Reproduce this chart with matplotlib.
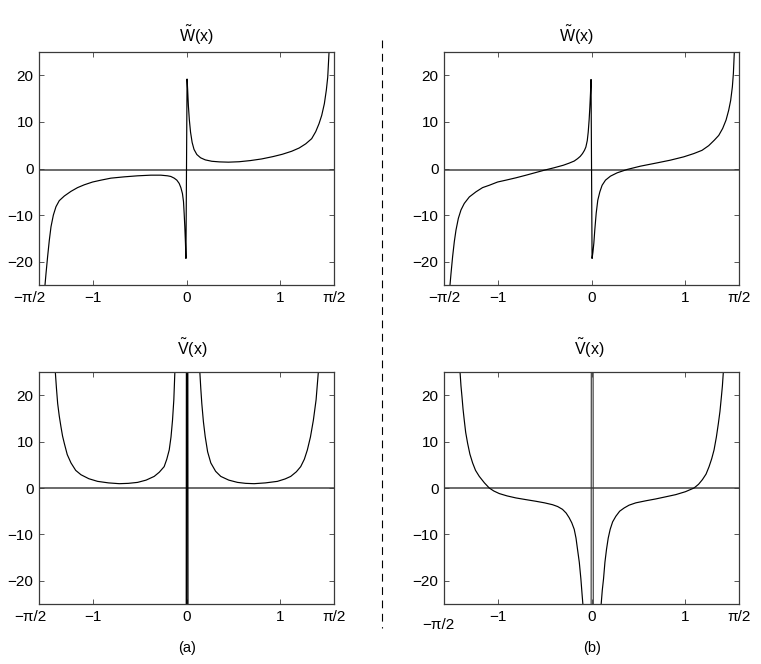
import numpy as np
import matplotlib
matplotlib.use("Agg")
import matplotlib.pyplot as plt
from matplotlib.lines import Line2D
from matplotlib.transforms import ScaledTranslation

plt.rcParams['font.family'] = ['Liberation Sans', 'DejaVu Sans']
plt.rcParams['mathtext.fontset'] = 'custom'
plt.rcParams['mathtext.rm'] = 'Liberation Sans'
plt.rcParams['mathtext.it'] = 'Liberation Sans:italic'

# ---------------- data ----------------
HALF_PI = np.pi / 2
x_ticks = [-HALF_PI, -1, 0, 1, HALF_PI]
x_tick_labels = ['\u2212\u03c0/2', '\u22121', '0', '1', '\u03c0/2']
y_ticks = [-20, -10, 0, 10, 20]
y_tick_labels = ['\u221220', '\u221210', '0', '10', '20']

# W~(x), panel (a)
wa_x = [-1.507, -1.496, -1.479, -1.461, -1.443, -1.418, -1.390, -1.355, -1.301, -1.230,
        -1.160, -1.089, -1.0, -0.911, -0.805, -0.663, -0.521, -0.379, -0.273, -0.202,
        -0.167, -0.131, -0.103, -0.078, -0.060, -0.043, -0.032, -0.025, -0.018, -0.011,
        -0.006, 0.006, 0.012, 0.02, 0.03, 0.043, 0.06, 0.08, 0.11, 0.15,
        0.2, 0.27, 0.35, 0.447, 0.56, 0.68, 0.8, 0.92, 1.02, 1.12,
        1.2, 1.27, 1.333, 1.376, 1.411, 1.44, 1.468, 1.489, 1.504, 1.518]
wa_y = [-25, -22.5, -18.9, -15.4, -12.5, -10.0, -8.2, -6.9, -5.9, -4.9,
        -4.1, -3.5, -2.9, -2.5, -2.07, -1.79, -1.57, -1.43, -1.43, -1.57,
        -1.71, -2.07, -2.5, -3.2, -4.1, -5.4, -7.1, -9.6, -12.5, -16.1,
        -19.3, 19.2, 17.0, 13.5, 10.5, 7.8, 5.6, 4.1, 3.0, 2.3,
        1.85, 1.55, 1.42, 1.36, 1.45, 1.7, 2.05, 2.55, 3.05, 3.7,
        4.4, 5.3, 6.4, 7.9, 9.6, 11.4, 13.9, 16.8, 19.6, 25]

# W~(x), panel (b)
wb_x = [-1.507, -1.496, -1.479, -1.461, -1.443, -1.418, -1.390, -1.355, -1.301, -1.230,
        -1.160, -1.089, -1.0, -0.911, -0.805, -0.7, -0.6, -0.5, -0.4, -0.3,
        -0.238, -0.184, -0.149, -0.12, -0.096, -0.075, -0.06, -0.045, -0.035, -0.025,
        -0.018, -0.011, -0.005, 0.006, 0.015, 0.025, 0.035, 0.05, 0.067, 0.089,
        0.113, 0.149, 0.202, 0.273, 0.379, 0.521, 0.699, 0.84, 0.982, 1.089,
        1.177, 1.248, 1.309, 1.355, 1.397, 1.433, 1.461, 1.482, 1.5, 1.511, 1.521]
wb_y = [-25, -22.5, -18.9, -15.7, -13.2, -10.7, -8.9, -7.5, -6.1, -5.0,
        -4.1, -3.6, -2.9, -2.5, -2.0, -1.45, -0.9, -0.35, 0.15, 0.7,
        1.15, 1.6, 2.1, 2.6, 3.2, 3.9, 4.6, 6.0, 7.8, 10.5,
        13.0, 16.0, 19.1, -19.3, -18.0, -16.0, -13.2, -9.6, -6.8, -5.0,
        -3.6, -2.5, -1.64, -0.93, -0.21, 0.5, 1.21, 1.79, 2.5, 3.2,
        3.9, 4.9, 6.1, 7.1, 8.6, 10.4, 12.5, 14.6, 17.5, 20.4, 25]

# V~(x), panel (a)
va_left_x = [-1.397, -1.385, -1.372, -1.355, -1.337, -1.32, -1.301, -1.27, -1.23, -1.18,
             -1.124, -1.04, -0.947, -0.83, -0.716, -0.62, -0.521, -0.43, -0.344, -0.29,
             -0.238, -0.21, -0.184, -0.165, -0.149, -0.135, -0.124]
va_left_y = [25, 21.5, 18.2, 15.5, 13.2, 11.2, 9.6, 7.2, 5.4, 3.8,
             2.86, 2.0, 1.43, 1.1, 0.93, 1.0, 1.21, 1.7, 2.5, 3.4,
             4.6, 6.2, 8.2, 11.0, 14.6, 19.0, 25]
va_right_x = [0.142, 0.152, 0.163, 0.18, 0.199, 0.225, 0.259, 0.31, 0.365, 0.45,
              0.543, 0.63, 0.72, 0.84, 0.968, 1.05, 1.11, 1.17, 1.216, 1.255,
              1.287, 1.32, 1.351, 1.38, 1.404]
va_right_y = [25, 21.5, 18.2, 14.3, 11.1, 7.8, 5.4, 3.6, 2.5, 1.7,
              1.21, 1.0, 0.93, 1.1, 1.43, 1.95, 2.5, 3.5, 4.6, 6.2,
              8.2, 11.0, 14.6, 19.0, 25]
va_mid_x = [-0.002, 0.0, 0.013, 0.015]
va_mid_y = [-30, 30, 30, -30]

# V~(x), panel (b)
vb_left_x = [-1.40, -1.39, -1.379, -1.368, -1.355, -1.34, -1.319, -1.295, -1.266, -1.235,
             -1.195, -1.14, -1.089, -1.04, -0.982, -0.9, -0.805, -0.7, -0.592, -0.5,
             -0.415, -0.36, -0.309, -0.27, -0.238, -0.21, -0.184, -0.165, -0.149, -0.13,
             -0.113, -0.1, -0.092]
vb_left_y = [25, 22, 19.6, 17, 14.6, 12, 9.6, 7.3, 5.4, 3.8,
             2.5, 1.1, 0.0, -0.65, -1.2, -1.7, -2.14, -2.5, -2.86, -3.2,
             -3.6, -4.0, -4.6, -5.4, -6.4, -7.5, -8.9, -10.8, -13.2, -16.0,
             -19.6, -23.0, -25]
vb_right_x = [0.103, 0.115, 0.128, 0.143, 0.16, 0.178, 0.199, 0.225, 0.259, 0.3,
              0.348, 0.4, 0.472, 0.58, 0.684, 0.79, 0.897, 1.0, 1.092, 1.14,
              1.181, 1.22, 1.252, 1.28, 1.305, 1.33, 1.351, 1.368, 1.383, 1.394, 1.404]
vb_right_y = [-25, -22, -19.6, -16, -13.2, -10.8, -8.9, -7.3, -6.1, -5.0,
              -4.3, -3.7, -3.2, -2.75, -2.36, -1.9, -1.43, -0.8, 0.0, 0.8,
              1.8, 3.0, 4.6, 6.3, 8.2, 11.0, 13.9, 16.5, 19.6, 22.0, 25]
vb_mid_x = [-0.004, -0.002, 0.017, 0.019]
vb_mid_y = [-30, 30, 30, -30]

zero_level_W = -0.4
zero_level_V = 0.0

# ---------------- figure ----------------
W, H = 761, 664
fig = plt.figure(figsize=(W / 100, H / 100), dpi=100)


def px_rect(l, t, r, b):
    return [l / W, 1 - b / H, (r - l) / W, (b - t) / H]


FRAME = '#3a3a3a'


def setup(ax, zero):
    ax.axhline(zero, color='#6a6a6a', lw=1.4, zorder=1)
    ax.set_xlim(-HALF_PI, HALF_PI)
    ax.set_ylim(-25, 25)
    ax.set_xticks(x_ticks)
    ax.set_xticklabels(x_tick_labels)
    ax.set_yticks(y_ticks)
    ax.set_yticklabels(y_tick_labels)
    ax.tick_params(direction='in', top=True, right=True, length=3.5, width=0.6,
                   color=FRAME, labelsize=11, labelcolor='black')
    ax.tick_params(axis='x', pad=4.5)
    ax.tick_params(axis='y', pad=4)
    for s in ax.spines.values():
        s.set_color(FRAME)
        s.set_linewidth(0.9)


def shift_label(ax, idx, dx, dy):
    lab = ax.get_xticklabels()[idx]
    lab.set_transform(lab.get_transform() + ScaledTranslation(dx / 100, dy / 100, fig.dpi_scale_trans))


LW = 0.85

ax1 = fig.add_axes(px_rect(39, 52, 334, 285))
ax1.plot(wa_x, wa_y, color='black', lw=LW)
setup(ax1, zero_level_W)

ax2 = fig.add_axes(px_rect(444, 52, 739, 285))
ax2.plot(wb_x, wb_y, color='black', lw=LW)
setup(ax2, zero_level_W)

ax3 = fig.add_axes(px_rect(39, 372, 334, 604))
ax3.plot(va_left_x, va_left_y, color='black', lw=LW)
ax3.plot(va_right_x, va_right_y, color='black', lw=LW)
ax3.plot(va_mid_x, va_mid_y, color='black', lw=1.0)
setup(ax3, zero_level_V)

ax4 = fig.add_axes(px_rect(444, 372, 739, 604))
ax4.plot(vb_left_x, vb_left_y, color='black', lw=LW)
ax4.plot(vb_right_x, vb_right_y, color='black', lw=LW)
ax4.plot(vb_mid_x, vb_mid_y, color='#333333', lw=0.8)
setup(ax4, zero_level_V)

shift_label(ax1, 0, -10, 0)
shift_label(ax3, 0, -9, 0)
shift_label(ax4, 0, -6, -8)

# titles
TS = 11.5
fig.text(196 / W, 1 - 35 / H, r'$\tilde{\mathrm{W}}$(x)', ha='center', va='center', fontsize=TS)
fig.text(576 / W, 1 - 35 / H, r'$\tilde{\mathrm{W}}$(x)', ha='center', va='center', fontsize=TS)
fig.text(192 / W, 1 - 348 / H, r'$\tilde{\mathrm{V}}$(x)', ha='center', va='center', fontsize=TS)
fig.text(589 / W, 1 - 348 / H, r'$\tilde{\mathrm{V}}$(x)', ha='center', va='center', fontsize=TS)

# panel labels
fig.text(187 / W, 1 - 648 / H, '(a)', ha='center', va='center', fontsize=10.5)
fig.text(592 / W, 1 - 648 / H, '(b)', ha='center', va='center', fontsize=10.5)

# dashed separator
fig.add_artist(Line2D([382 / W, 382 / W], [1 - 40 / H, 1 - 628 / H], transform=fig.transFigure,
                      color='black', lw=0.8, dashes=(7, 5)))

fig.savefig('out.png', dpi=100)
